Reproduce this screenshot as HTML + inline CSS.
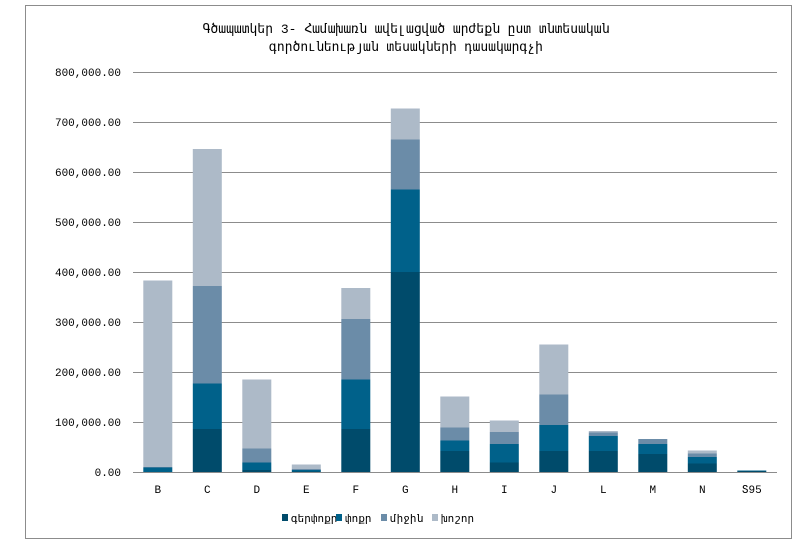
<!DOCTYPE html>
<html><head><meta charset="utf-8"><style>
body{margin:0;background:#fff;}
svg text{font-family:"Liberation Mono","DejaVu Sans Mono",monospace;}
</style></head><body>
<svg width="812" height="550" xmlns="http://www.w3.org/2000/svg">
<rect x="25.5" y="5.5" width="766" height="533" fill="#fff" stroke="#8c8c8c" stroke-width="1"/>
<text x="406" y="33" font-size="13" text-anchor="middle" font-family="DejaVu Sans, sans-serif">Գծապատկեր 3- Համախառն ավելացված արժեքն ըստ տնտեսական</text>
<text x="406" y="51" font-size="13" text-anchor="middle" font-family="DejaVu Sans, sans-serif">գործունեության տեսակների դասակարգչի</text>
<g stroke="#8c8c8c" stroke-width="1">
<line x1="133" x2="777" y1="72.5" y2="72.5"/><line x1="133" x2="777" y1="122.5" y2="122.5"/>
<line x1="133" x2="777" y1="172.5" y2="172.5"/><line x1="133" x2="777" y1="222.5" y2="222.5"/>
<line x1="133" x2="777" y1="272.5" y2="272.5"/><line x1="133" x2="777" y1="322.5" y2="322.5"/>
<line x1="133" x2="777" y1="372.5" y2="372.5"/><line x1="133" x2="777" y1="422.5" y2="422.5"/>
</g>
<g font-size="11" text-anchor="end" fill="#000">
<text x="121" y="76">800,000.00</text><text x="121" y="126">700,000.00</text>
<text x="121" y="176">600,000.00</text><text x="121" y="226">500,000.00</text>
<text x="121" y="276">400,000.00</text><text x="121" y="326">300,000.00</text>
<text x="121" y="376">200,000.00</text><text x="121" y="426">100,000.00</text>
<text x="121" y="476">0.00</text>
</g>
<g id="bars"></g>
<line x1="133" x2="777" y1="472.5" y2="472.5" stroke="#8c8c8c"/>
<g font-size="11" text-anchor="middle" id="cats"></g>
<g font-size="11" font-family="DejaVu Sans, sans-serif">
<rect x="282" y="514" width="6" height="7" fill="#004b6b"/><text x="291" y="522">գերփոքր</text>
<rect x="336" y="514" width="6" height="7" fill="#00618a"/><text x="345" y="522">փոքր</text>
<rect x="381" y="514" width="6" height="7" fill="#6b8ca8"/><text x="390" y="522">միջին</text>
<rect x="432" y="514" width="6" height="7" fill="#adbac8"/><text x="441" y="522">խոշոր</text>
</g>
<script>
var d=[["B",0,10,11,384],["C",87,178,373,647],["D",5,20,48,186],["E",2,5,7,16],["F",87,186,307,369],["G",401,566,666,728],["H",43,64,90,152],["I",20,57,81,104],["J",43,95,156,256],["L",43,73,80,83],["M",37,57,67,67],["N",18,31,38,44],["Տ95",3,4,4,4]];
var col=["#004b6b","#00618a","#6b8ca8","#adbac8"];
var g=document.getElementById("bars"),c=document.getElementById("cats"),ns="http://www.w3.org/2000/svg";
d.forEach(function(r,i){var cx=157.8+i*49.5,prev=0;
for(var k=0;k<4;k++){var v=r[k+1];if(v>prev){var e=document.createElementNS(ns,"rect");
e.setAttribute("x",cx-14.5);e.setAttribute("width",29);e.setAttribute("y",472.5-v*0.5);e.setAttribute("height",(v-prev)*0.5);e.setAttribute("fill",col[k]);g.appendChild(e);}prev=Math.max(prev,v);}
var t=document.createElementNS(ns,"text");t.setAttribute("x",cx);t.setAttribute("y",493);t.textContent=r[0];c.appendChild(t);});
</script>
</svg>
</body></html>
